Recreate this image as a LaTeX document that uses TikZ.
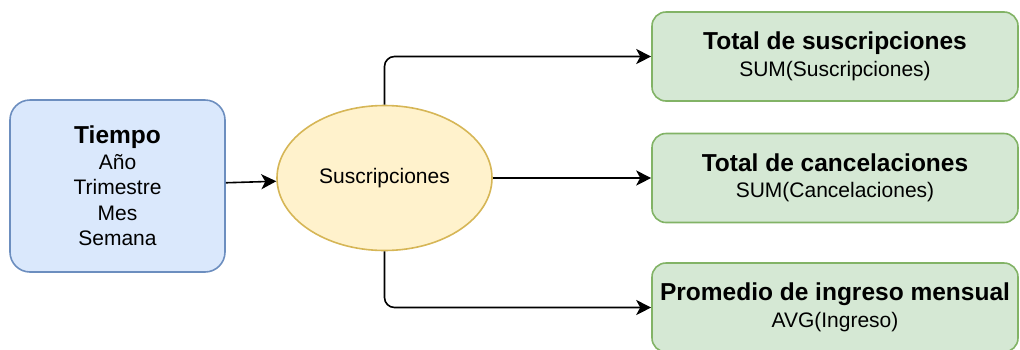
\documentclass[tikz,border=0pt]{standalone}
\usepackage{fontspec}
\setmainfont{Liberation Sans}
\usetikzlibrary{arrows.meta,shapes.geometric}
\definecolor{dimFill}{HTML}{DAE8FC}
\definecolor{dimLine}{HTML}{6C8EBF}
\definecolor{factFill}{HTML}{FFF2CC}
\definecolor{factLine}{HTML}{D6B656}
\definecolor{measFill}{HTML}{D5E8D4}
\definecolor{measLine}{HTML}{82B366}
\newcommand{\titlefont}{\fontsize{24.5}{25.5}\selectfont\bfseries}
\begin{document}
\begin{tikzpicture}[x=1pt,y=-1pt,
  base/.style={draw, line width=1.6pt, inner sep=0pt, align=center,
    font=\fontsize{21}{25.5}\selectfont},
  dimbox/.style={base, fill=dimFill, draw=dimLine, rounded corners=20pt,
    minimum width=215pt, minimum height=172pt},
  factnode/.style={base, ellipse, fill=factFill, draw=factLine,
    minimum width=215pt, minimum height=145pt},
  measbox/.style={base, fill=measFill, draw=measLine, rounded corners=14pt,
    minimum width=366pt, minimum height=89pt},
  conn/.style={line width=1.6pt, rounded corners=10pt,
    -{Stealth[length=15pt,width=15pt,inset=4pt]}}
]
\useasboundingbox (0,0) rectangle (1020,349);

% dimension
\node[dimbox] (tiempo) at (117.5,186)
  {{\titlefont Tiempo}\\Año\\Trimestre\\Mes\\Semana};

% fact
\node[factnode] (susc) at (384.5,178) {Suscripciones};

% measures
\node[measbox] (total) at (835,56.5)
  {{\titlefont Total de suscripciones}\\[1pt]SUM(Suscripciones)};
\node[measbox] (cancel) at (835,178)
  {{\titlefont Total de cancelaciones}\\[1pt]SUM(Cancelaciones)};
\node[measbox] (prom) at (835,307.5)
  {{\titlefont Promedio de ingreso mensual}\\[1pt]AVG(Ingreso)};

% connectors
\draw[conn] (tiempo) -- (susc);
\draw[conn] (susc.north) |- (total.west);
\draw[conn] (susc.east) -- (cancel.west);
\draw[conn] (susc.south) |- (prom.west);
\end{tikzpicture}
\end{document}
